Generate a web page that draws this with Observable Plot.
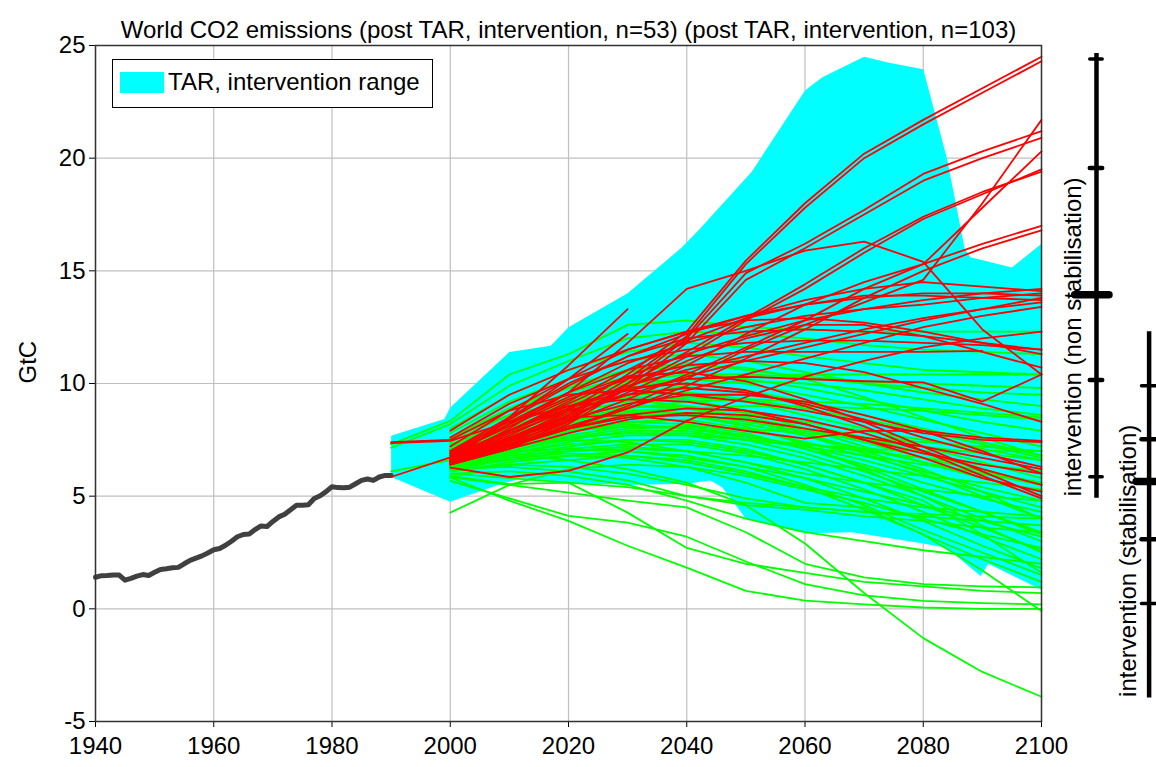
<!DOCTYPE html>
<html>
<head>
<meta charset="utf-8">
<script src="https://cdn.jsdelivr.net/npm/d3@7"></script>
<script src="https://cdn.jsdelivr.net/npm/@observablehq/plot@0.6"></script>
<style>
  html, body { margin: 0; padding: 0; background: #fff; }
  #wrap { position: relative; width: 1156px; height: 767px; font-family: "Liberation Sans", Arial, sans-serif; }
  #legend { position: absolute; left: 112px; top: 59px; width: 321px; height: 49px; box-sizing: border-box;
            border: 1px solid #000; background: #fff; }
  #legend .sw { position: absolute; left: 7px; top: 12px; width: 44px; height: 21px; background: #00ffff; }
  #legend .tx { position: absolute; left: 55px; top: 8px; font-size: 24px; line-height: 28px; color: #000; white-space: nowrap; }
</style>
</head>
<body>
<div id="wrap"><div id="chart"></div>
  <div id="legend"><div class="sw"></div><div class="tx">TAR, intervention range</div></div>
</div>
<script>
// ---------------- DATA ----------------
const title = "World CO2 emissions (post TAR, intervention, n=53) (post TAR, intervention, n=103)";
const yLabel = "GtC";
const xTicks = [1940, 1960, 1980, 2000, 2020, 2040, 2060, 2080, 2100];
const yTicks = [-5, 0, 5, 10, 15, 20, 25];

// historical emissions 1940-1990
const histYears = d3.range(1940, 1991);
const histValues = [1.40,1.47,1.48,1.50,1.50,1.27,1.35,1.45,1.52,1.48,
  1.62,1.75,1.78,1.82,1.84,2.00,2.15,2.25,2.35,2.48,
  2.62,2.68,2.82,3.00,3.20,3.30,3.32,3.52,3.68,3.65,
  3.88,4.08,4.20,4.40,4.60,4.60,4.62,4.90,5.02,5.20,
  5.42,5.38,5.37,5.40,5.55,5.70,5.76,5.70,5.85,5.92,5.92];

// TAR intervention range (upper edge forward, lower edge backward)
const bandUpperYears = [1990,1999,2000,2010,2017,2020,2030,2039,2042,2051,2060,2063,2070,2074,2080,2084,2087,2088,2095,2100];
const bandUpper =      [7.68,8.42,8.94,11.4,11.67,12.5,14.0,16.0,16.8,19.4,23.0,23.6,24.5,24.25,23.95,20.0,16.0,15.6,15.15,16.2];
const bandLowerYears = [2100,2091,2089.7,2084,2080,2068,2060,2050,2046,2044,2040,2030,2020,2012,2007,2000,1990];
const bandLower =      [0.85,2.0,1.46,2.7,2.9,3.4,3.35,4.0,5.4,5.7,5.55,5.5,5.6,5.8,5.4,4.75,5.85];

// scenario years
const scenYears = [1990,2000,2010,2020,2030,2040,2050,2060,2070,2080,2090,2100];
const _ = null;

// stabilisation scenarios (green)
const greenSeries = [
  [7.30,8.34,10.4,11.3,12.6,12.8,12.5,12.4,12.3,12.3,12.3,12.3],
  [7.15,8.20,9.9,11.0,12.0,12.3,12.2,12.0,11.7,11.5,11.4,11.3],
  [_,8.0,9.5,10.6,11.4,11.8,11.6,11.2,10.9,10.6,10.5,10.4],
  [_,7.8,9.2,10.2,11.0,11.3,11.0,10.5,10.0,9.6,9.3,9.0],
  [_,7.6,8.9,9.9,10.6,10.9,10.6,10.3,10.0,9.8,9.6,9.5],
  [_,7.4,8.6,9.6,10.3,10.5,10.2,9.8,9.3,8.8,8.3,7.9],
  [_,7.2,8.4,9.3,10.0,10.2,10.0,9.5,9.0,8.4,7.8,7.2],
  [_,7.0,8.2,9.1,9.8,10.0,9.7,9.2,8.6,8.0,7.4,6.8],
  [_,6.9,8.0,8.9,9.5,9.6,9.3,8.9,8.4,7.9,7.3,6.7],
  [_,6.8,7.8,8.7,9.2,9.4,9.2,8.6,8.0,7.2,6.5,5.8],
  [_,6.7,7.7,8.5,9.0,9.0,8.7,8.2,7.6,6.9,6.2,5.5],
  [_,6.6,7.5,8.3,8.8,8.9,8.5,8.0,7.4,6.7,6.1,5.6],
  [_,6.5,7.4,8.1,8.6,8.6,8.2,7.7,7.1,6.5,5.8,5.2],
  [_,6.5,7.2,7.9,8.3,8.4,8.0,7.4,6.8,6.1,5.4,4.8],
  [_,6.4,7.1,7.7,8.1,8.1,7.7,7.1,6.4,5.6,4.9,4.3],
  [_,6.4,7.0,7.5,7.9,7.9,7.5,6.9,6.1,5.2,4.3,3.4],
  [_,6.3,6.9,7.4,7.7,7.7,7.3,6.7,5.9,5.0,4.0,3.0],
  [_,6.3,6.8,7.2,7.5,7.5,7.1,6.4,5.6,4.6,3.6,2.6],
  [_,6.2,6.7,7.1,7.3,7.3,6.9,6.2,5.3,4.3,3.2,2.2],
  [_,6.2,6.6,7.0,7.2,7.0,6.5,5.8,4.9,3.9,2.8,1.8],
  [_,6.1,6.5,6.8,7.0,6.8,6.3,5.5,4.6,3.5,2.5,1.5],
  [_,6.1,6.4,6.6,6.8,6.6,6.1,5.4,4.4,3.3,2.2,1.2],
  [_,7.0,6.9,6.6,6.2,5.6,4.6,2.9,0.7,-1.3,-2.8,-3.9],
  [_,5.83,4.8,3.9,2.8,1.83,0.8,0.36,0.2,0.06,0.0,0.0],
  [_,5.68,4.9,4.13,3.83,3.2,2.1,1.1,0.6,0.35,0.25,0.2],
  [_,5.9,5.53,5.6,4.27,2.7,2.0,1.6,1.2,1.0,0.8,0.7],
  [_,5.83,5.5,5.16,4.8,4.5,3.4,2.0,1.4,1.1,1.0,0.95],
  [_,4.27,5.5,6.2,6.4,6.3,5.9,5.3,4.7,4.0,3.3,2.7],
  [6.1,6.6,7.2,7.6,7.8,7.8,7.5,7.2,6.8,6.4,6.0,5.6],
  [_,7.6,8.6,9.2,9.3,9.0,8.5,7.8,7.0,6.2,5.2,4.0],
  [_,6.9,7.9,8.6,9.0,8.9,8.4,7.7,6.9,6.0,5.0,4.0],
  [_,7.1,8.1,8.9,9.4,9.3,8.8,8.0,7.2,6.5,6.0,5.5],
  [_,6.6,7.3,7.9,8.2,8.0,7.6,7.3,7.1,7.0,7.0,7.0],
  [_,6.7,7.5,8.2,8.7,8.9,9.0,9.0,8.9,8.8,8.6,8.4],
  [_,6.5,7.2,7.6,7.8,7.7,7.5,7.3,7.0,6.7,6.4,6.1],
  [_,6.3,6.7,6.9,6.8,6.5,6.0,5.4,4.9,4.5,4.3,4.1],
  [_,6.2,6.4,6.3,6.0,5.5,4.9,4.5,4.3,4.2,4.1,4.0],
  [_,6.0,5.8,5.6,5.4,5.0,4.7,4.5,4.3,4.1,3.9,3.7],
  [_,6.4,6.9,7.3,7.5,7.4,7.0,6.4,5.6,4.8,3.3,1.6],
  [_,7.3,8.3,9.2,9.8,10.2,10.3,10.4,10.4,10.4,10.4,10.4],
  [_,6.8,7.6,8.4,8.9,9.2,9.3,9.2,9.1,8.9,8.7,8.5],
  [_,6.5,7.4,8.0,8.3,8.2,7.8,7.1,6.3,5.3,4.3,3.3],
  [_,6.6,7.6,8.4,8.8,8.7,8.3,7.9,7.5,7.2,6.9,6.6],
  [_,6.4,7.0,7.6,8.0,8.1,8.0,7.8,7.6,7.4,7.2,7.0],
  [_,6.9,7.8,8.4,8.7,8.6,8.1,7.3,6.2,5.0,3.7,2.5],
  [_,6.3,6.6,6.8,6.7,6.3,5.6,4.7,4.5,3.3,1.7,-0.1],
  [_,6.2,6.3,6.1,5.7,5.0,4.6,4.4,4.1,3.9,3.6,3.4],
  [_,6.0,6.1,5.9,5.5,4.8,4.0,3.4,3.0,2.6,2.3,2.0],
  [_,7.0,8.0,8.8,9.5,9.9,10.1,10.0,9.7,9.3,8.9,8.6],
  [_,7.1,8.3,9.4,10.1,10.4,10.4,10.3,10.1,10.0,9.9,9.8],
  [_,6.6,7.0,7.1,7.0,6.7,6.3,5.8,5.2,4.6,3.9,3.2],
  [_,6.8,7.3,7.5,7.4,7.0,6.5,6.0,5.6,5.3,5.0,4.8],
  [_,7.5,8.8,9.8,10.5,10.8,10.7,10.2,9.4,8.5,7.6,6.8],
  [_,6.7,7.4,8.0,8.5,8.7,8.6,8.3,7.9,7.5,7.1,6.6],
  [_,6.9,7.5,7.9,8.1,8.0,7.7,7.2,6.6,5.9,5.2,4.5],
  [_,6.4,6.8,7.0,7.1,7.0,6.8,6.5,6.2,5.9,5.6,5.3]
];

// non-stabilisation scenarios (red)
const redSeries = [
  [_,6.5,7.5,8.8,10.4,12.3,15.45,18.0,20.2,21.7,23.1,24.5],
  [_,6.45,7.4,8.6,10.2,12.1,15.3,17.8,20.0,21.5,22.9,24.3],
  [_,6.6,8.0,9.6,11.8,14.2,15.0,15.9,16.3,15.4,12.4,10.4],
  [_,6.4,7.2,8.3,10.0,12.0,14.9,16.2,17.7,19.3,20.3,21.2],
  [_,6.4,7.1,8.2,9.8,11.8,14.6,16.0,17.5,19.0,20.0,20.9],
  [_,6.5,7.2,8.0,9.0,10.2,11.5,12.6,13.6,14.6,18.0,21.7],
  [_,6.6,7.5,8.5,9.6,10.8,12.2,13.5,14.5,15.3,17.8,20.3],
  [_,6.5,7.3,8.4,9.8,11.2,12.8,14.2,15.8,17.3,18.4,19.5],
  [_,6.7,7.6,8.7,10.0,11.4,12.9,14.4,16.0,17.4,18.5,19.4],
  [_,6.6,7.4,8.3,9.3,10.4,11.6,12.8,14.2,15.3,16.2,17.0],
  [_,6.5,7.2,8.0,8.9,9.9,11.1,12.4,13.8,15.0,16.0,16.8],
  [_,6.8,7.9,9.1,10.3,11.3,12.1,12.8,13.3,13.7,14.0,14.2],
  [_,6.9,8.2,9.6,10.9,11.8,12.5,13.0,13.3,13.5,13.8,14.0],
  [_,6.6,7.6,8.6,9.5,10.3,11.0,11.6,12.2,12.8,13.3,13.8],
  [_,6.7,7.7,8.9,9.9,10.6,11.2,11.8,12.4,12.9,13.3,13.6],
  [_,6.5,7.3,8.1,8.9,9.7,10.4,11.1,11.8,12.5,13.0,13.4],
  [_,7.0,8.5,10.0,11.2,12.0,12.3,12.4,12.3,12.1,11.8,11.5],
  [_,7.2,8.8,10.2,11.5,12.3,12.8,12.9,12.7,12.3,11.8,11.3],
  [_,7.0,8.3,9.6,10.6,11.2,11.4,11.4,11.4,11.4,11.45,_],
  [_,6.5,8.5,10.8,13.3,_,_,_,_,_,_,_],
  [_,6.6,8.4,10.2,12.2,_,_,_,_,_,_,_],
  [_,6.5,7.6,8.5,8.6,8.3,7.9,7.55,7.9,7.9,7.6,7.45],
  [7.4,7.5,8.8,9.5,9.7,9.5,9.2,8.8,8.3,7.8,7.5,7.4],
  [7.35,7.45,8.3,9.0,9.3,9.2,8.8,8.2,7.5,6.9,6.4,6.0],
  [5.85,6.72,7.3,8.0,8.6,8.9,8.8,8.4,7.8,7.0,6.2,5.5],
  [_,6.6,7.9,9.0,9.8,10.0,9.7,9.0,8.1,7.0,5.9,4.9],
  [_,6.8,8.2,9.4,10.3,10.5,10.1,9.3,8.3,7.2,6.1,5.0],
  [_,6.4,7.1,7.8,8.4,8.7,8.6,8.2,7.5,6.7,5.8,5.2],
  [_,6.7,7.8,8.8,9.5,9.8,9.6,9.1,8.4,7.6,6.9,6.3],
  [_,6.5,7.3,8.0,8.5,8.6,8.4,8.0,7.6,7.2,6.7,6.2],
  [_,6.27,5.85,6.12,6.94,8.34,9.4,10.3,11.0,11.6,12.0,12.3],
  [_,7.9,9.5,10.6,11.5,12.3,13.0,13.5,13.8,14.0,14.0,13.9],
  [_,7.6,9.1,10.2,11.0,11.5,11.8,11.9,11.9,11.8,11.7,11.5],
  [_,6.9,8.1,9.3,10.2,10.8,11.0,10.9,10.5,9.8,9.1,8.3],
  [_,6.8,7.9,8.9,9.7,10.2,10.3,10.2,10.1,10.05,9.2,10.4],
  [_,6.6,7.5,8.4,9.1,9.5,9.5,9.2,8.6,7.9,7.0,6.0],
  [_,6.5,7.5,8.6,9.8,11.0,12.0,12.6,12.6,12.1,11.4,10.7],
  [_,6.9,8.4,9.9,11.2,12.2,13.0,13.7,14.2,14.5,14.3,14.1],
  [_,6.7,7.9,9.2,10.6,11.9,12.9,13.5,13.9,13.9,13.8,13.7]
];

// range bars at 2100 (min, 5%, 25%, median, 75%, 95%, max)
const boxNames = ["intervention (non stabilisation)", "intervention (stabilisation)"];
const boxMin = [4.91, -3.96];
const boxP5  = [5.86, 0.24];
const boxP25 = [10.15, 3.09];
const boxMed = [13.94, 5.65];
const boxP75 = [19.56, 7.53];
const boxP95 = [24.4, 9.9];
const boxMax = [24.65, 12.3];

// ---------------- LAYOUT ----------------
const barX = [2109.3, 2118.2];          // x positions (years beyond the frame)
const tickHalf = [1.05, 1.2];
const medLeft = [2105.7, 2116.1], medRight = [2111.5, 2121];
const labelDx = [32, 87];
const labelY = [12.07, 2.13];

const hist = histYears.map((year, i) => ({year, value: histValues[i]}));
const band = bandUpperYears.map((year, i) => ({year, value: bandUpper[i]}))
  .concat(bandLowerYears.map((year, i) => ({year, value: bandLower[i]})));
function rows(series, prefix) {
  const out = [];
  series.forEach((s, k) => s.forEach((v, i) => out.push({id: prefix + k, year: scenYears[i], value: v})));
  return out;
}
const greenRows = rows(greenSeries, "g");
const redRows = rows(redSeries, "r");

const boxes = boxNames.map((name, i) => ({name, i, x: barX[i], min: boxMin[i], max: boxMax[i]}));
const tickRows = [];
boxes.forEach((b, i) => {
  [[boxP5[i], 3.5], [boxP25[i], 4.5], [boxP75[i], 4.5], [boxP95[i], 3.5]].forEach(([v, w]) =>
    tickRows.push({y: v, x1: barX[i] - tickHalf[i], x2: barX[i] + tickHalf[i], w}));
  tickRows.push({y: boxMed[i], x1: medLeft[i], x2: medRight[i], w: 7.5});
});

const font = "'Liberation Sans', Arial, sans-serif";
const labelMarks = boxes.map((b, i) =>
  Plot.text([b], {x: () => 2100, y: () => labelY[i], dx: labelDx[i], text: "name", rotate: -90, fill: "#000", fontSize: 24}));

const chart = Plot.plot({
  width: 1156, height: 767,
  marginLeft: 95, marginRight: 115, marginTop: 45, marginBottom: 46,
  style: {fontSize: "24px", fontFamily: font, background: "#fff", color: "#000", overflow: "visible"},
  x: {domain: [1940, 2100], ticks: xTicks, tickSize: 6, tickPadding: 9, tickFormat: d => String(d), label: null},
  y: {domain: [-5, 25], ticks: yTicks, tickSize: 6, tickPadding: 4, tickFormat: d => String(d), label: null},
  marks: [
    Plot.ruleX(xTicks, {stroke: "#c0c0c0", strokeWidth: 1.2}),
    Plot.ruleY(yTicks, {stroke: "#c0c0c0", strokeWidth: 1.2}),
    Plot.line(band, {x: "year", y: "value", fill: "#00ffff", stroke: "none"}),
    Plot.line(hist, {x: "year", y: "value", stroke: "#404040", strokeWidth: 5, strokeLinejoin: "round", strokeLinecap: "round"}),
    Plot.line(greenRows, {x: "year", y: "value", z: "id", stroke: "#00ff00", strokeWidth: 1.8}),
    Plot.line(redRows, {x: "year", y: "value", z: "id", stroke: "#ff0000", strokeWidth: 1.8}),
    Plot.frame({stroke: "#333", strokeWidth: 1.5}),
    Plot.ruleX(boxes, {x: "x", y1: "min", y2: "max", stroke: "#000", strokeWidth: 4.5}),
    Plot.ruleY(tickRows, {y: "y", x1: "x1", x2: "x2", stroke: "#000", strokeWidth: "w", strokeLinecap: "round"}),
    ...labelMarks,
    Plot.text([title], {frameAnchor: "top", dy: -25, text: d => d, fontSize: 24, fill: "#000"}),
    Plot.text([yLabel], {frameAnchor: "left", dx: -67, rotate: -90, text: d => d, fontSize: 24, fill: "#000"})
  ]
});
document.getElementById("chart").appendChild(chart);
</script>
</body>
</html>
